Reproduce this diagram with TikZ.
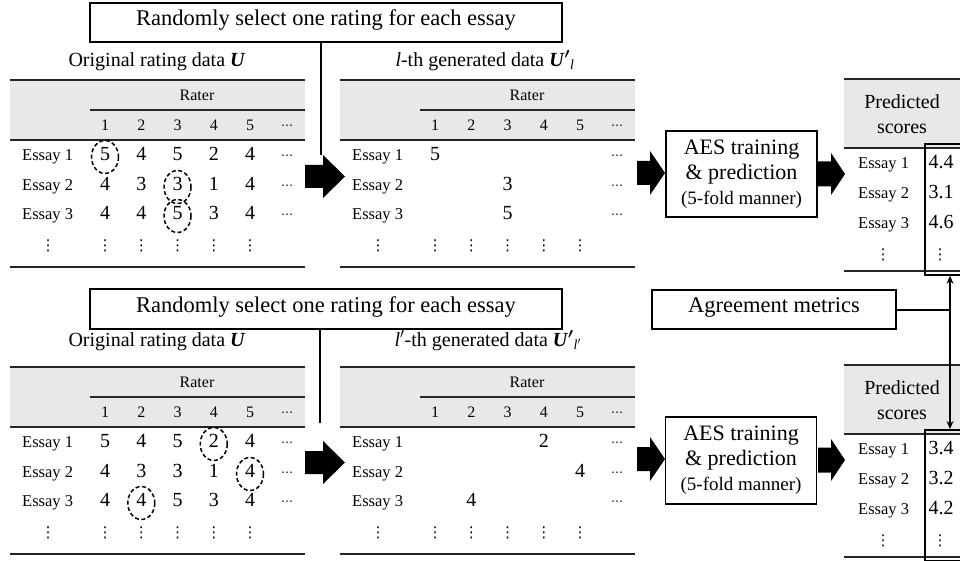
\documentclass[tikz,border=0pt]{standalone}
\usepackage{fontspec}
\setmainfont{Liberation Serif}
\newfontfamily\symfont{DejaVu Sans}
\usetikzlibrary{arrows.meta}
\definecolor{hdrgray}{RGB}{232,232,232}
\newcommand\blockarr[6]{\fill (#1,#2-#3) -- (#1+#4,#2-#3) -- (#1+#4,#2-#5) -- (#1+#4+#6,#2) -- (#1+#4,#2+#5) -- (#1+#4,#2+#3) -- (#1,#2+#3) -- cycle;}
\newcommand\hdots{⋯}
\newcommand\vdts{⋮}
\begin{document}
\begin{tikzpicture}[x=1pt,y=-1pt,
  txt/.style={inner sep=0pt, text height=0.66em, text depth=0pt},
  lab/.style={txt, font=\fontsize{16.5}{18}\selectfont},
  hdr/.style={txt, font=\fontsize{16}{18}\selectfont},
  num/.style={txt, font=\fontsize{20}{22}\selectfont},
  dotn/.style={inner sep=0pt, font=\symfont\fontsize{12}{12}\selectfont},
  vd/.style={inner sep=0pt, font=\symfont\fontsize{15}{15}\selectfont},
  ttl/.style={txt, font=\fontsize{20}{22}\selectfont},
  box/.style={draw, line width=1.8pt, inner sep=0pt, font=\fontsize{22.5}{25}\selectfont},
  tl/.style={line width=1.5pt, black!85},
  tlt/.style={line width=2pt, black!85},
  circ/.style={line width=1.5pt, dash pattern=on 4pt off 2.5pt},
  conn/.style={line width=2pt},
  tip/.style={{Stealth[length=8pt,width=7pt]}-{Stealth[length=8pt,width=7pt]}},
]
\useasboundingbox (0,0) rectangle (960,561);
\clip (0,0) rectangle (960,561);
\fill[white] (0,0) rectangle (960,561);

% ---------- rating tables (structure) ----------
\foreach \xo/\yo/\tn in {0/0/A, 330/0/B, 0/287/C, 330/287/D} {
  \fill[hdrgray] (\xo+10,\yo+80) rectangle (\xo+305,\yo+140);
  \draw[tl] (\xo+10,\yo+80) -- (\xo+305,\yo+80);
  \draw[line width=1.3pt, black!85] (\xo+90,\yo+110) -- (\xo+305,\yo+110);
  \draw[tlt] (\xo+10,\yo+140) -- (\xo+305,\yo+140);
  \draw[tl] (\xo+10,\yo+267) -- (\xo+305,\yo+267);
  \node[hdr] (\tn-rater) at (\xo+197,\yo+97) {Rater};
  \foreach \c in {1,...,5}
    \node[hdr] (\tn-h\c) at (\xo+105+36.25*\c-36.25,\yo+127) {\c};
  \node[dotn] (\tn-hd) at (\xo+287,\yo+127) {\hdots};
  \foreach \r/\ry in {1/157,2/187,3/216} {
    \node[lab,anchor=west] (\tn-e\r) at (\xo+22,\yo+\ry) {Essay \r};
    \node[dotn] (\tn-d\r) at (\xo+287,\yo+\ry) {\hdots};
  }
  \node[vd] (\tn-v0) at (\xo+48,\yo+246) {\vdts};
  \foreach \c in {1,...,5}
    \node[vd] (\tn-v\c) at (\xo+105+36.25*\c-36.25,\yo+246) {\vdts};
}

% ---------- original data values ----------
\foreach \yo/\tn in {0/A, 287/C} {
  \foreach \r/\ry/\vals in {1/157/{5,4,5,2,4}, 2/187/{4,3,3,1,4}, 3/216/{4,4,5,3,4}} {
    \foreach \v [count=\c] in \vals
      \node[num] (\tn-\r-\c) at (105+36.25*\c-36.25,\yo+\ry) {\v};
  }
}
\draw[circ] (A-1-1) ellipse [x radius=13.5, y radius=16.5];
\draw[circ] (A-2-3) ellipse [x radius=13.5, y radius=16.5];
\draw[circ] (A-3-3) ellipse [x radius=13.5, y radius=16.5];
\draw[circ] (C-1-4) ellipse [x radius=13.5, y radius=16.5];
\draw[circ] (C-2-5) ellipse [x radius=13.5, y radius=16.5];
\draw[circ] (C-3-2) ellipse [x radius=13.5, y radius=16.5];

% ---------- generated data values ----------
\node[num] (B-1-1) at (435,157) {5};
\node[num] (B-2-3) at (507.5,187) {3};
\node[num] (B-3-3) at (507.5,216) {5};
\node[num] (D-1-4) at (543.75,444) {2};
\node[num] (D-2-5) at (580,474) {4};
\node[num] (D-3-2) at (471.25,503) {4};

% ---------- titles ----------
\node[ttl] (tA) at (157,63) {Original rating data \textbf{\textit{U}}};
\node[ttl] (tB) at (485,63) {\textit{l}-th generated data \textbf{\textit{U}}{\boldmath$'$}\textsubscript{\textit{l}}};
\node[ttl] (tC) at (157,343) {Original rating data \textbf{\textit{U}}};
\node[ttl] (tD) at (488,343) {\textit{l}$'$-th generated data \textbf{\textit{U}}{\boldmath$'$}\textsubscript{\textit{l}$'$}};

% ---------- select boxes ----------
\node[box, text height=0.66em, text depth=0pt, minimum width=472, minimum height=39] (sel1) at (326,22.5) {Randomly select one rating for each essay};
\node[box, text height=0.66em, text depth=0pt, minimum width=472, minimum height=40] (sel2) at (326,309) {Randomly select one rating for each essay};
\coordinate (j1) at (321,155);
\coordinate (j2) at (320,423);
\draw[conn] (sel1.south -| j1) -- (j1);
\draw[conn] (sel2.south -| j2) -- (j2);

% ---------- block arrows ----------
\blockarr{305}{176.5}{11.5}{18}{21.5}{22}
\blockarr{637}{173}{12}{13}{22}{15}
\blockarr{818}{174}{12.5}{13}{21}{14}
\blockarr{305}{462.5}{11.5}{18}{21.5}{22}
\blockarr{637}{459}{12}{13}{22}{15}
\blockarr{818}{460}{12.5}{13}{21}{14}

% ---------- AES boxes ----------
\node[box, minimum width=151, minimum height=86, align=center, font=\fontsize{22}{25}\selectfont] (aes1) at (741.5,174) {AES training\\ \& prediction\\ {\fontsize{19}{25}\selectfont (5-fold manner)}};
\node[box, minimum width=151, minimum height=87, align=center, font=\fontsize{22}{25}\selectfont] (aes2) at (741,460.5) {AES training\\ \& prediction\\ {\fontsize{19}{25}\selectfont (5-fold manner)}};

% ---------- agreement ----------
\node[box, text height=0.66em, text depth=0pt, minimum width=244, minimum height=39] (agr) at (774,309.5) {Agreement metrics};

% ---------- predicted score tables ----------
\foreach \yo/\tn/\sa/\sb/\sc in {0/P/4.4/3.1/4.6, 286/Q/3.4/3.2/4.2} {
  \fill[hdrgray] (844,\yo+79) rectangle (962,\yo+148);
  \draw[tl] (844,\yo+79) -- (962,\yo+79);
  \draw[tlt] (844,\yo+148) -- (962,\yo+148);
  \draw[tl] (844,\yo+271) -- (962,\yo+271);
  \node[align=center, font=\fontsize{20}{25}\selectfont, inner sep=0pt] (\tn-hd) at (902,\yo+114.5) {Predicted\\scores};
  \foreach \r/\ry/\v in {1/165/\sa, 2/195/\sb, 3/225/\sc} {
    \node[lab, anchor=west] (\tn-e\r) at (858,\yo+\ry) {Essay \r};
    \node[num] (\tn-s\r) at (941,\yo+\ry) {\v};
  }
  \node[vd] (\tn-v0) at (883,\yo+255) {\vdts};
  \node[vd] (\tn-v1) at (940,\yo+255) {\vdts};
  \node[draw, line width=1.8pt, minimum width=38, minimum height=131, anchor=north west, inner sep=0pt] (\tn-box) at (924,\yo+143) {};
}

% ---------- agreement connectors ----------
\coordinate (va) at (950,0);
\draw[conn, tip] (P-box.south -| va) -- (Q-box.north -| va);
\draw[conn] (agr.east) -- (agr.east -| va);
\end{tikzpicture}
\end{document}
